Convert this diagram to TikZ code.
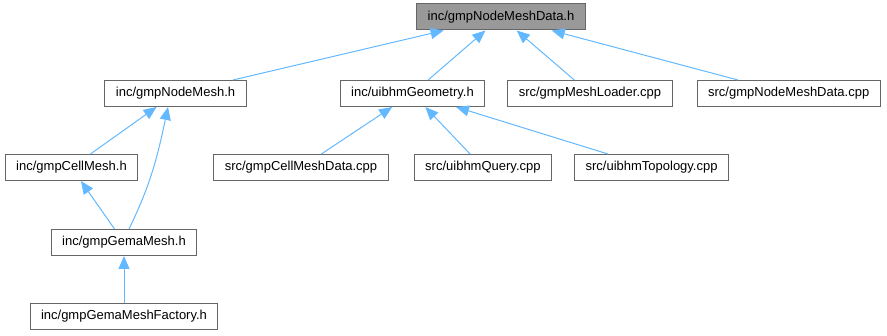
\documentclass[tikz,border=0pt]{standalone}
\usepackage{fontspec}
\setmainfont{Liberation Sans}
\usetikzlibrary{positioning,arrows.meta}
\definecolor{edgeblue}{HTML}{63B8FF}
\definecolor{boxline}{HTML}{666666}
\definecolor{rootfill}{HTML}{999999}

\begin{document}
\begin{tikzpicture}[x=1pt, y=1pt,
    file/.style={draw=boxline, fill=white, rectangle, minimum height=26pt, inner xsep=11pt, inner ysep=0pt, line width=1pt, font=\fontsize{13}{15}\selectfont},
    root/.style={file, fill=rootfill},
    dep/.style={color=edgeblue, line width=1pt, -{Triangle[length=13pt,width=11pt]}}]
    \useasboundingbox (0,0) rectangle (887,-336);

    \node[root] (node_data_h) at (501,-17) {inc/gmpNodeMeshData.h};

    \node[file] (node_mesh) at (175.5,-93.5) {inc/gmpNodeMesh.h};
    \node[file] (geometry) at (412.5,-93.5) {inc/uibhmGeometry.h};
    \node[file] (mesh_loader) [right=22pt of geometry] {src/gmpMeshLoader.cpp};
    \node[file] (node_data_cpp) [right=24pt of mesh_loader] {src/gmpNodeMeshData.cpp};

    \node[file] (cell_mesh) at (71.5,-167.5) {inc/gmpCellMesh.h};
    \node[file] (cell_data_cpp) at (301,-167.5) {src/gmpCellMeshData.cpp};
    \node[file] (query) [right=25pt of cell_data_cpp] {src/uibhmQuery.cpp};
    \node[file] (topology) [right=22pt of query] {src/uibhmTopology.cpp};

    \node[file] (gema_mesh) at (124,-242.5) {inc/gmpGemaMesh.h};
    \node[file] (gema_factory) [below=47pt of gema_mesh] {inc/gmpGemaMeshFactory.h};

    \path[dep]
    (node_mesh) edge (node_data_h)
    (geometry) edge (node_data_h)
    (mesh_loader) edge (node_data_h)
    (node_data_cpp) edge (node_data_h)
    (cell_mesh) edge (node_mesh)
    (cell_data_cpp) edge (geometry)
    (query) edge (geometry)
    (topology) edge (geometry)
    (gema_mesh) edge (cell_mesh)
    (gema_factory) edge (gema_mesh);
    \draw[dep] ([xshift=5pt]gema_mesh.north) to[out=64, in=-102] ([xshift=-7.5pt]node_mesh.south);
\end{tikzpicture}
\end{document}
